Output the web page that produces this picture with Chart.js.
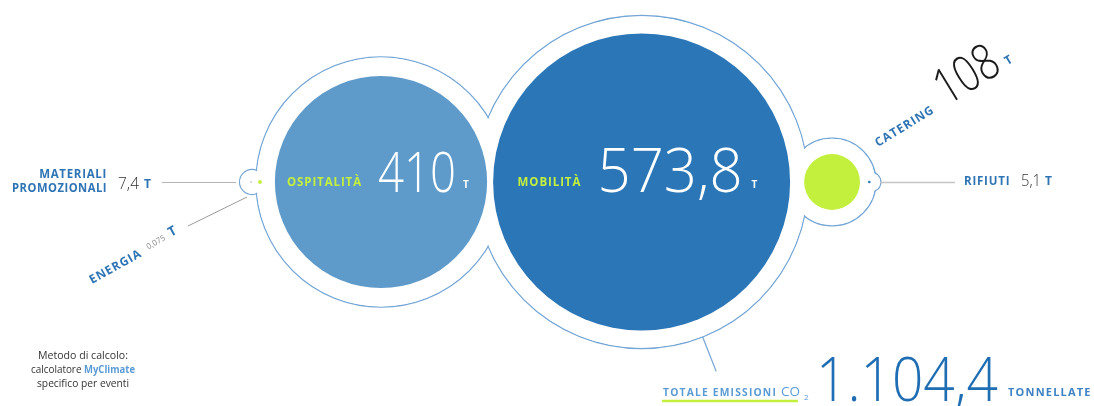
<!DOCTYPE html>
<html lang="it">
<head>
<meta charset="utf-8">
<title>Emissioni CO2</title>
<script src="https://cdn.jsdelivr.net/npm/chart.js@4.4.1/dist/chart.umd.min.js"></script>
<style>
  html, body { margin: 0; padding: 0; background: #fff; }
  canvas { display: block; }
</style>
</head>
<body>
<canvas id="co2-chart" width="1094" height="406"></canvas>
<script>
// Dati: emissioni in tonnellate di CO2
const categories = ['Materiali promozionali', 'Energia', 'Ospitalità', 'Mobilità', 'Catering', 'Rifiuti'];
const emissions = [7.4, 0.075, 410, 573.8, 108, 5.1];
const unitShort = 'T';
const unitLong = 'TONNELLATE';

// formato italiano: 1104.4 -> "1.104,4"
function fmtIt(v) {
    const parts = String(v).split('.');
    parts[0] = parts[0].replace(/\B(?=(\d{3})+(?!\d))/g, '.');
    return parts.join(',');
}
const total = Math.round(emissions.reduce((a, b) => a + b, 0) * 10) / 10;

// Layout: raggio proporzionale al valore
const k = 0.2588;
const radii = emissions.map(v => Math.max(v * k, 1));
const cy = 182;
const xs = [];
xs[2] = 381;
xs[3] = xs[2] + radii[2] + 6 + radii[3];
xs[4] = xs[3] + radii[3] + 14 + radii[4];
xs[5] = xs[4] + radii[4] + 8 + radii[5];
xs[0] = xs[2] - radii[2] - 13 - radii[0];
xs[1] = xs[0] - radii[0] - 6 - radii[1];

const colors = ['#c3f03d', '#cfcfcf', '#5e9bca', '#2a76b7', '#c3f03d', '#2a76b7'];
// anello di contorno attorno ad ogni bolla (null = nessuno)
const ringPad = [null, 11.5, 19, 18, 16, 8.7];
const ringShift = [0, 1, 0, 0, 0, 1.5];

const BLUE = '#2e74b5';
const SANS = '"Open Sans", "Noto Sans", sans-serif';

function txt(c, s, x, y, font, color, align, maxW, spacing) {
    c.font = font;
    c.fillStyle = color;
    c.textAlign = align || 'left';
    c.textBaseline = 'alphabetic';
    c.letterSpacing = spacing || '0px';
    if (maxW) c.fillText(s, x, y, maxW); else c.fillText(s, x, y);
    c.letterSpacing = '0px';
}
function line(c, x1, y1, x2, y2, color, w) {
    c.beginPath();
    c.moveTo(x1, y1);
    c.lineTo(x2, y2);
    c.strokeStyle = color;
    c.lineWidth = w || 1;
    c.stroke();
}

const outlinePlugin = {
    id: 'outline',
    beforeDatasetsDraw(chart) {
        const c = chart.ctx;
        const pts = chart.getDatasetMeta(0).data;
        const rings = [];
        pts.forEach((p, i) => {
            if (ringPad[i] == null) return;
            rings.push({ x: p.x + ringShift[i], y: p.y, r: radii[i] + ringPad[i] });
        });
        c.save();
        c.strokeStyle = '#74a6d6';
        c.lineWidth = 1.3;
        rings.forEach(r => { c.beginPath(); c.arc(r.x, r.y, r.r, 0, Math.PI * 2); c.stroke(); });
        c.fillStyle = '#fff';
        rings.forEach(r => { c.beginPath(); c.arc(r.x, r.y, r.r - 0.7, 0, Math.PI * 2); c.fill(); });
        // linea radiale verso il totale
        const m = pts[3], a = 68.5 * Math.PI / 180, r0 = radii[3] + ringPad[3];
        line(c, m.x + r0 * Math.cos(a), m.y + r0 * Math.sin(a),
             m.x + (r0 + 37) * Math.cos(a), m.y + (r0 + 37) * Math.sin(a), '#74a6d6', 1.2);
        c.restore();
    }
};

const labelPlugin = {
    id: 'labels',
    afterDatasetsDraw(chart) {
        const c = chart.ctx;
        const pts = chart.getDatasetMeta(0).data;
        c.save();

        // linee guida
        line(c, 162, 182.5, 236, 182.5, '#b5b5b5', 1);
        line(c, 188, 226, 247, 197, '#9a9a9a', 1);
        line(c, 880, 182.5, 955, 182.5, '#c4c4c4', 1.5);

        // Materiali promozionali
        txt(c, 'MATERIALI', 107, 178, 'bold 11.5px ' + SANS, BLUE, 'right', null, '0.7px');
        txt(c, 'PROMOZIONALI', 107, 191.5, 'bold 11.5px ' + SANS, BLUE, 'right', 95, '0.5px');
        txt(c, fmtIt(emissions[0]), 118, 189, '300 17px ' + SANS, '#333', 'left', 21);
        txt(c, unitShort, 144, 188, 'bold 12px ' + SANS, BLUE);

        // Energia (ruotato)
        c.save();
        c.translate(92, 284);
        c.rotate(-29 * Math.PI / 180);
        txt(c, 'ENERGIA', 0, 0, 'bold 12px ' + SANS, BLUE, 'left', 58, '1px');
        txt(c, fmtIt(emissions[1]), 66, -3, '8px ' + SANS, '#888', 'left', 21);
        txt(c, unitShort, 92, -3, 'bold 13px ' + SANS, BLUE);
        c.restore();

        // Ospitalità
        const o = pts[2];
        txt(c, categories[2].toUpperCase(), o.x - 94, 186, 'bold 11.5px ' + SANS, '#c3f03d', 'left', 76, '0.9px');
        txt(c, fmtIt(emissions[2]), o.x - 3, 192, '300 56px ' + SANS, '#fff', 'left', 78);
        txt(c, unitShort, o.x + 82, 188, 'bold 10px ' + SANS, '#fff');

        // Mobilità
        const m = pts[3];
        txt(c, categories[3].toUpperCase(), m.x - 124, 186, 'bold 11.5px ' + SANS, '#c3f03d', 'left', 65, '0.9px');
        txt(c, fmtIt(emissions[3]), m.x - 44, 192, '300 60px ' + SANS, '#fff', 'left', 145);
        txt(c, unitShort, m.x + 110, 188, 'bold 10px ' + SANS, '#fff');

        // Catering (ruotato)
        c.save();
        c.translate(878, 147);
        c.rotate(-31.5 * Math.PI / 180);
        txt(c, categories[4].toUpperCase(), 0, 0, 'bold 12px ' + SANS, BLUE, 'left', 67, '1px');
        txt(c, fmtIt(emissions[4]), 80, 1, '300 50px ' + SANS, '#1a1a1a', 'left', 67);
        txt(c, unitShort, 153, -2, 'bold 12px ' + SANS, BLUE);
        c.restore();

        // Rifiuti
        txt(c, categories[5].toUpperCase(), 964, 185, 'bold 11.5px ' + SANS, BLUE, 'left', 47, '0.8px');
        txt(c, fmtIt(emissions[5]), 1021, 186, '300 16px ' + SANS, '#333', 'left', 20);
        txt(c, unitShort, 1045, 185, 'bold 12px ' + SANS, BLUE);

        // Nota metodo
        txt(c, 'Metodo di calcolo:', 83, 359, '11px ' + SANS, '#333', 'center', 90);
        c.font = '11px ' + SANS;
        const w1 = Math.min(c.measureText('calcolatore ').width, 53);
        c.font = 'bold 11px ' + SANS;
        const w2 = Math.min(c.measureText('MyClimate').width, 51);
        const sx = 83 - (w1 + w2) / 2;
        txt(c, 'calcolatore ', sx, 373, '11px ' + SANS, '#333', 'left', 53);
        txt(c, 'MyClimate', sx + w1, 373, 'bold 11px ' + SANS, '#5b9bd5', 'left', 51);
        txt(c, 'specifico per eventi', 83, 387, '11px ' + SANS, '#333', 'center', 92);

        // Totale
        txt(c, 'TOTALE EMISSIONI', 663, 396, 'bold 10.5px ' + SANS, '#5b9bd5', 'left', 114, '1.2px');
        txt(c, 'CO', 781, 396, '13.5px ' + SANS, '#5b9bd5', 'left', 22);
        txt(c, '2', 804, 400, '8px ' + SANS, '#5b9bd5');
        line(c, 662, 401, 798, 401, '#c3f03d', 2.5);
        txt(c, fmtIt(total), 816, 401, '300 60px ' + SANS, '#1f6db3', 'left', 182);
        txt(c, unitLong, 1008, 396, 'bold 11px ' + SANS, '#3d82c4', 'left', 85, '1.2px');

        c.restore();
    }
};

const ctx = document.getElementById('co2-chart').getContext('2d');
const co2Chart = new Chart(ctx, {
    type: 'bubble',
    data: {
        labels: categories,
        datasets: [{
            label: 'Emissioni CO2 (t)',
            data: emissions.map((v, i) => ({ x: xs[i], y: cy, r: radii[i] })),
            backgroundColor: colors,
            borderWidth: 0,
            hoverBorderWidth: 0,
            clip: false
        }]
    },
    options: {
        responsive: false,
        animation: false,
        events: [],
        layout: { padding: 0, autoPadding: false },
        plugins: { legend: { display: false }, tooltip: { enabled: false } },
        scales: {
            x: { type: 'linear', min: 0, max: 1094, display: false },
            y: { type: 'linear', min: 0, max: 406, reverse: true, display: false }
        }
    },
    plugins: [outlinePlugin, labelPlugin]
});
</script>
</body>
</html>
